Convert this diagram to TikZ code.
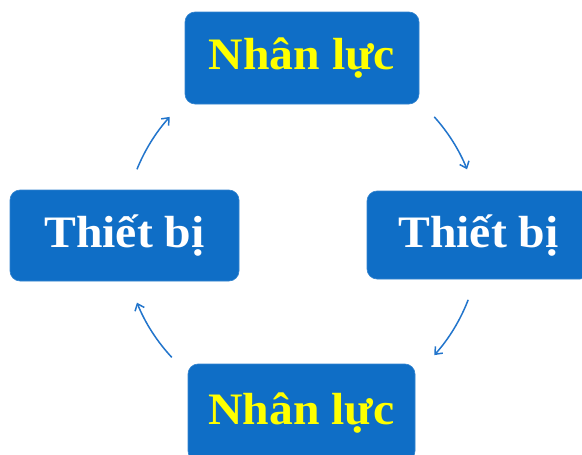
\documentclass[tikz,border=0pt]{standalone}
\usepackage{fontspec}
\setmainfont{Liberation Serif}[FakeStretch=1.06]
\usetikzlibrary{arrows.meta}
\definecolor{boxblue}{HTML}{0F6EC6}
\definecolor{arrblue}{HTML}{2275CC}
\definecolor{txtyellow}{HTML}{FFFF00}
\tikzset{
  box/.style={fill=boxblue, draw=boxblue!85!white, line width=0.6pt, rounded corners=10pt,
    inner sep=0pt, text height=30pt, text depth=6pt,
    font=\fontsize{45}{50}\selectfont\bfseries},
  yel/.style={text=txtyellow},
  wht/.style={text=white},
  arr/.style={draw=arrblue, line width=1.5pt, -{Straight Barb[length=6pt,width=10pt]}}
}
\begin{document}
\begin{tikzpicture}[x=1pt,y=-1pt]
\useasboundingbox (0,0) rectangle (582,455);
\clip (0,0) rectangle (582,455);
\fill[white] (0,0) rectangle (582,455);
\node[box,yel,minimum width=234pt,minimum height=92pt] (top) at (302,58) {Nhân lực};
\node[box,wht,minimum width=223pt,minimum height=88pt] (right) at (478.5,235) {Thiết bị};
\node[box,yel,minimum width=227pt,minimum height=97pt] (bottom) at (301.5,412.5) {Nhân lực};
\node[box,wht,minimum width=229pt,minimum height=91pt] (left) at (124.5,235.5) {Thiết bị};
\coordinate (c) at (302,236);
\coordinate (a1) at ([shift={(-42:178)}]c);
\coordinate (a2) at ([shift={(21:178)}]c);
\coordinate (a3) at ([shift={(137:178)}]c);
\coordinate (a4) at ([shift={(-158:178)}]c);
\draw[arr] (a1) arc[start angle=-42, end angle=-22, radius=178];
\draw[arr] (a2) arc[start angle=21, end angle=42, radius=178];
\draw[arr] (a3) arc[start angle=137, end angle=158, radius=178];
\draw[arr] (a4) arc[start angle=-158, end angle=-138, radius=178];
\end{tikzpicture}
\end{document}
